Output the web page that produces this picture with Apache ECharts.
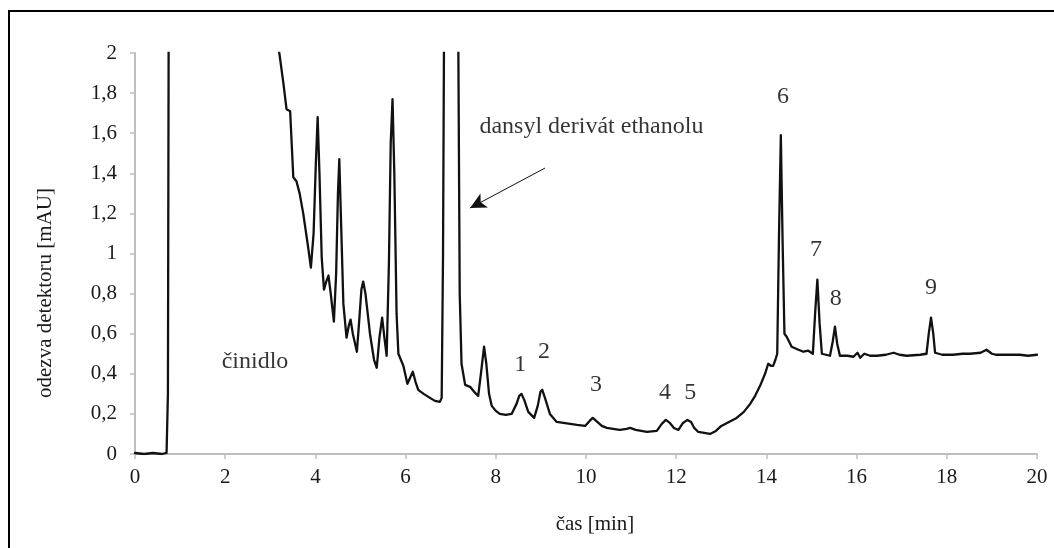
<!DOCTYPE html>
<html>
<head>
<meta charset="utf-8">
<script src="https://cdn.jsdelivr.net/npm/echarts@6/dist/echarts.min.js"></script>
<style>html,body{margin:0;padding:0;background:#fff;}#c{width:1054px;height:548px;}</style>
</head>
<body>
<div id="c"></div>
<script>
// retention time [min]
const time = [0,0.2,0.4,0.6,0.70,0.73,0.75,0.78,1.5,2.5,3.0,3.2,3.29,3.36,3.44,3.51,3.58,3.65,3.73,3.84,3.90,3.96,4.01,4.05,4.09,4.14,4.19,4.24,4.29,4.34,4.41,4.46,4.50,4.53,4.57,4.62,4.69,4.74,4.78,4.83,4.92,4.97,5.02,5.06,5.11,5.21,5.30,5.36,5.42,5.48,5.53,5.58,5.63,5.67,5.71,5.75,5.80,5.84,5.95,6.04,6.10,6.16,6.22,6.28,6.40,6.54,6.65,6.76,6.80,6.83,6.86,6.95,7.10,7.17,7.20,7.24,7.32,7.43,7.52,7.61,7.68,7.74,7.79,7.85,7.91,8.00,8.09,8.22,8.35,8.46,8.52,8.57,8.63,8.72,8.85,8.93,8.99,9.03,9.09,9.20,9.35,9.50,9.65,9.80,9.98,10.08,10.15,10.25,10.35,10.46,10.60,10.75,10.90,10.98,11.10,11.35,11.57,11.68,11.77,11.86,11.95,12.05,12.15,12.25,12.33,12.40,12.49,12.62,12.75,12.88,13.00,13.17,13.34,13.50,13.64,13.75,13.86,13.97,14.04,14.10,14.15,14.20,14.24,14.28,14.32,14.36,14.40,14.45,14.49,14.56,14.71,14.82,14.93,15.03,15.08,15.13,15.18,15.23,15.41,15.47,15.52,15.57,15.63,15.80,15.93,16.02,16.08,16.17,16.30,16.45,16.65,16.82,16.95,17.11,17.41,17.55,17.60,17.65,17.70,17.74,17.90,18.14,18.35,18.51,18.75,18.88,19.00,19.10,19.35,19.62,19.80,20.00];
// detector response [mAU]
const response = [0.005,0.0,0.005,0.0,0.005,0.3,2.5,8,6,3.5,2.4,2.0,1.85,1.72,1.71,1.38,1.36,1.30,1.20,1.03,0.93,1.10,1.45,1.68,1.40,0.98,0.82,0.86,0.89,0.80,0.66,0.90,1.30,1.47,1.15,0.75,0.58,0.64,0.67,0.60,0.51,0.66,0.82,0.86,0.80,0.60,0.47,0.43,0.58,0.68,0.58,0.49,0.95,1.55,1.77,1.40,0.70,0.50,0.44,0.35,0.38,0.41,0.36,0.32,0.30,0.28,0.265,0.26,0.28,1.0,2.5,8,4,2.0,0.8,0.45,0.345,0.335,0.31,0.29,0.42,0.535,0.45,0.30,0.24,0.215,0.20,0.195,0.20,0.25,0.29,0.30,0.27,0.21,0.18,0.24,0.31,0.32,0.28,0.20,0.16,0.155,0.15,0.145,0.14,0.165,0.18,0.16,0.14,0.13,0.125,0.12,0.125,0.13,0.12,0.11,0.115,0.15,0.17,0.155,0.13,0.12,0.155,0.17,0.16,0.13,0.11,0.105,0.10,0.115,0.14,0.16,0.18,0.21,0.25,0.29,0.34,0.40,0.45,0.44,0.44,0.47,0.50,1.10,1.59,1.05,0.60,0.585,0.58,0.535,0.52,0.51,0.515,0.50,0.70,0.87,0.65,0.50,0.49,0.56,0.635,0.55,0.49,0.49,0.485,0.505,0.48,0.50,0.49,0.49,0.495,0.505,0.495,0.49,0.495,0.50,0.60,0.68,0.60,0.505,0.495,0.495,0.50,0.50,0.505,0.52,0.50,0.495,0.495,0.495,0.49,0.495];

// axis ticks
const xTicks = [0,2,4,6,8,10,12,14,16,18,20];
const yTicks = [0,0.2,0.4,0.6,0.8,1,1.2,1.4,1.6,1.8,2];

// annotations (text and data-space anchor)
const noteText = ['činidlo','dansyl derivát ethanolu','1','2','3','4','5','6','7','8','9'];
const noteTime = [2.66,10.12,8.54,9.07,10.22,11.75,12.31,14.37,15.10,15.54,17.65];
const noteResp = [0.459,1.63,0.444,0.509,0.344,0.304,0.304,1.78,1.02,0.773,0.828];
// arrow from text toward the ethanol derivative peak
const arrowFrom = [9.09,1.426];
const arrowTo = [7.43,1.227];

const FONT = '"Liberation Serif","Times New Roman",serif';
const chart = echarts.init(document.getElementById('c'), null, {renderer:'canvas'});
const lineData = time.map((t,i)=>[t,response[i]]);
const noteData = noteText.map((s,i)=>({name:s,value:[noteTime[i],noteResp[i]]}));

chart.setOption({
  animation:false,
  backgroundColor:'#fff',
  grid:{left:135,right:17,top:53,bottom:94},
  xAxis:{
    type:'value',min:xTicks[0],max:xTicks[xTicks.length-1],interval:2,
    axisLine:{show:true,onZero:false,lineStyle:{color:'#bfbfbf',width:2}},
    axisTick:{show:true,length:5,lineStyle:{color:'#bfbfbf',width:1.5}},
    axisLabel:{color:'#1a1a1a',fontFamily:FONT,fontSize:21,margin:13},
    splitLine:{show:false}
  },
  yAxis:{
    type:'value',min:yTicks[0],max:yTicks[yTicks.length-1],interval:0.2,
    axisLine:{show:true,lineStyle:{color:'#bfbfbf',width:2}},
    axisTick:{show:true,length:5,lineStyle:{color:'#bfbfbf',width:1.5}},
    axisLabel:{color:'#1a1a1a',fontFamily:FONT,fontSize:21,margin:18,
      formatter:v=>String(+v.toFixed(1)).replace('.',',')},
    splitLine:{show:false}
  },
  series:[
    {type:'line',data:lineData,showSymbol:false,symbol:'none',clip:true,
     lineStyle:{color:'#111',width:2.3,join:'round',cap:'round'},z:3},
    {type:'scatter',data:noteData,symbolSize:0,silent:true,z:4,
     label:{show:true,position:'inside',formatter:p=>p.name,color:'#000',fontFamily:FONT,fontSize:24},
     markLine:{silent:true,symbol:['none','arrow'],symbolSize:[12,16],
       lineStyle:{color:'#111',width:1,type:'solid'},label:{show:false},
       data:[[{coord:arrowFrom},{coord:arrowTo}]]}}
  ],
  graphic:[
    {type:'rect',shape:{x:9,y:11,width:1200,height:700},style:{fill:'none',stroke:'#000',lineWidth:2},silent:true},
    {type:'text',x:45,y:293,rotation:Math.PI/2,style:{text:'odezva detektoru [mAU]',fill:'#1a1a1a',font:'21px '+FONT,align:'center',verticalAlign:'middle'}},
    {type:'text',x:595,y:524,style:{text:'čas [min]',fill:'#1a1a1a',font:'21px '+FONT,align:'center',verticalAlign:'middle'}}
  ]
});
</script>
</body>
</html>
